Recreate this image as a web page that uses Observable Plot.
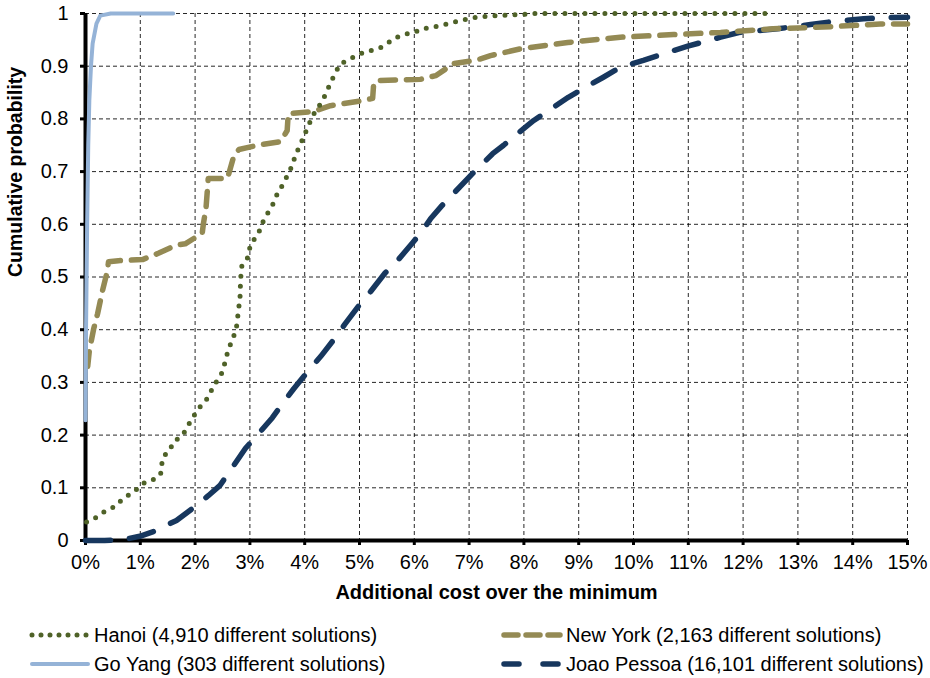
<!DOCTYPE html>
<html>
<head>
<meta charset="utf-8">
<script src="https://cdn.jsdelivr.net/npm/d3@7"></script>
<script src="https://cdn.jsdelivr.net/npm/@observablehq/plot@0.6"></script>
<style>
  html, body { margin: 0; padding: 0; background: #fff; }
  body { font-family: "Liberation Sans", Arial, sans-serif; }
  #wrap { width: 930px; }
</style>
</head>
<body>
<div id="wrap"></div>
<script>
// ---- Data (additional cost over the minimum, %, vs cumulative probability) ----
const hanoiX = [0.02,0.2,0.35,0.55,0.67,0.84,0.97,1.08,1.24,1.37,1.39,1.42,1.53,1.6,1.73,1.84,1.92,2.0,2.08,2.17,2.24,2.32,2.5,2.6,2.75,2.82,2.83,2.85,2.96,3.01,3.16,3.23,3.34,3.43,3.5,3.61,3.69,3.78,3.83,3.92,3.98,4.05,4.12,4.18,4.25,4.32,4.4,4.47,4.56,4.62,4.7,4.85,5.05,5.38,5.53,5.66,5.8,6.0,6.15,6.48,6.7,6.95,7.2,7.9,8.2,12.4];
const hanoiY = [0.035,0.044,0.055,0.065,0.078,0.09,0.1,0.11,0.116,0.125,0.144,0.16,0.169,0.186,0.197,0.21,0.228,0.24,0.252,0.264,0.271,0.29,0.32,0.36,0.40,0.462,0.495,0.52,0.537,0.561,0.584,0.603,0.624,0.64,0.658,0.677,0.694,0.713,0.732,0.75,0.767,0.782,0.8,0.812,0.822,0.835,0.85,0.869,0.886,0.9,0.907,0.915,0.925,0.935,0.945,0.954,0.96,0.964,0.971,0.977,0.983,0.989,0.994,0.998,1.0,1.0];

const newYorkX = [0.04,0.07,0.15,0.22,0.31,0.4,0.42,0.6,1.04,1.33,1.64,1.82,2.13,2.15,2.2,2.24,2.59,2.7,2.8,3.19,3.56,3.68,3.7,4.16,4.47,5.07,5.24,5.26,5.38,6.11,6.39,6.72,7.15,7.39,7.94,8.8,9.76,10.73,11.59,12.55,13.6,14.5,15.0];
const newYorkY = [0.33,0.36,0.402,0.43,0.474,0.512,0.529,0.531,0.533,0.545,0.56,0.563,0.583,0.6,0.632,0.687,0.687,0.727,0.742,0.751,0.757,0.778,0.81,0.814,0.825,0.835,0.839,0.869,0.873,0.875,0.882,0.905,0.912,0.92,0.933,0.945,0.955,0.96,0.964,0.971,0.975,0.98,0.98];

const goYangX = [0.0,0.01,0.03,0.05,0.07,0.1,0.13,0.2,0.27,0.46,1.6];
const goYangY = [0.228,0.4,0.6,0.75,0.835,0.9,0.943,0.981,0.996,1.0,1.0];

const joaoX = [0.0,0.35,0.71,0.99,1.24,1.66,1.93,2.24,2.45,2.92,3.16,3.41,3.61,3.8,4.1,4.29,4.56,4.73,5.02,5.2,5.47,5.66,5.97,6.15,6.3,6.5,7.08,7.43,7.63,7.99,8.18,8.54,8.81,9.21,9.45,9.76,10.18,10.68,10.99,11.59,11.92,12.63,13.23,13.65,14.2,14.54,15.0];
const joaoY = [0.0,0.0,0.002,0.008,0.017,0.038,0.059,0.085,0.104,0.175,0.203,0.233,0.262,0.288,0.326,0.349,0.385,0.41,0.45,0.472,0.508,0.527,0.565,0.588,0.611,0.635,0.698,0.734,0.75,0.781,0.797,0.822,0.841,0.865,0.879,0.898,0.911,0.928,0.938,0.955,0.964,0.971,0.979,0.985,0.99,0.992,0.993];

const xTicks = [0,1,2,3,4,5,6,7,8,9,10,11,12,13,14,15];
const yTicks = [0,0.1,0.2,0.3,0.4,0.5,0.6,0.7,0.8,0.9,1];

const seriesNames = ["Hanoi (4,910 different solutions)","New York (2,163 different solutions)","Go Yang (303 different solutions)","Joao Pessoa (16,101 different solutions)"];
const seriesColors = ["#4f6228","#948a54","#95b3d7","#17375e"];
const xTitle = "Additional cost over the minimum";
const yTitle = "Cumulative probability";

const zip = (xs, ys) => xs.map((x, i) => ({x, y: ys[i]}));
const hanoi = zip(hanoiX, hanoiY);
const newYork = zip(newYorkX, newYorkY);
const goYang = zip(goYangX, goYangY);
const joao = zip(joaoX, joaoY);

const styles = [
  {strokeWidth: 5, strokeDasharray: "0,10", strokeLinecap: "round"},
  {strokeWidth: 5.5, strokeDasharray: "15,11", strokeLinecap: "round"},
  {strokeWidth: 4, strokeLinecap: "round"},
  {strokeWidth: 5.5, strokeDasharray: "25,19", strokeLinecap: "round"}
];

const xFmt = d => d + "%";
const yFmt = d => d === 0 ? "0" : d === 1 ? "1" : d.toFixed(1);

const chart = Plot.plot({
  width: 930,
  height: 610,
  marginLeft: 85,
  marginRight: 23,
  marginTop: 13,
  marginBottom: 70,
  style: {fontFamily: "'Liberation Sans', Arial, sans-serif", color: "#000", background: "#fff"},
  x: {domain: [0, 15]},
  y: {domain: [0, 1]},
  marks: [
    Plot.gridX(xTicks.slice(1), {stroke: "#000", strokeOpacity: 0.85, strokeWidth: 1, strokeDasharray: "4,3"}),
    Plot.gridY(yTicks.slice(1), {stroke: "#000", strokeOpacity: 0.85, strokeWidth: 1, strokeDasharray: "4,3"}),
    Plot.ruleX([0], {stroke: "#000", strokeWidth: 4}),
    Plot.ruleY([0], {stroke: "#000", strokeWidth: 4}),
    Plot.axisX({ticks: xTicks, tickFormat: xFmt, tickSize: 5, strokeWidth: 3, tickPadding: 9, fontSize: 20, label: null}),
    Plot.axisY({ticks: yTicks, tickFormat: yFmt, tickSize: 5, strokeWidth: 3, tickPadding: 12, fontSize: 20, label: null}),
    Plot.line(joao, {x: "x", y: "y", stroke: seriesColors[3], ...styles[3]}),
    Plot.line(newYork, {x: "x", y: "y", stroke: seriesColors[1], ...styles[1]}),
    Plot.line(hanoi, {x: "x", y: "y", stroke: seriesColors[0], ...styles[0]}),
    Plot.line(goYang, {x: "x", y: "y", stroke: seriesColors[2], ...styles[2]}),
    Plot.text([xTitle], {frameAnchor: "bottom", dy: 58, fontWeight: "bold", fontSize: 20, fill: "#000"}),
    Plot.text([yTitle], {frameAnchor: "left", dx: -70, rotate: -90, fontWeight: "bold", fontSize: 19.5, fill: "#000"})
  ]
});
document.getElementById("wrap").appendChild(chart);

// ---- Legend (below the plot) ----
const legendPos = [
  {lx: 30, ty: 25}, {lx: 502, ty: 25}, {lx: 30, ty: 54}, {lx: 502, ty: 54}
];
const leg = d3.create("svg").attr("width", 930).attr("height", 68)
  .style("display", "block")
  .style("font-family", "'Liberation Sans', Arial, sans-serif");
seriesNames.forEach((name, i) => {
  const p = legendPos[i];
  const len = 60;
  const g = leg.append("g");
  g.append("line")
    .attr("x1", p.lx + 2).attr("x2", p.lx + len - 2)
    .attr("y1", p.ty).attr("y2", p.ty)
    .attr("stroke", seriesColors[i])
    .attr("stroke-width", styles[i].strokeWidth)
    .attr("stroke-linecap", styles[i].strokeLinecap || "butt")
    .attr("stroke-dasharray", i === 0 ? "0,9" : i === 1 ? "14,8" : i === 3 ? "15,24" : null);
  g.append("text")
    .attr("x", p.lx + len + 4).attr("y", p.ty)
    .attr("dy", "0.35em")
    .attr("font-size", 20)
    .attr("fill", "#000")
    .text(name);
});
document.getElementById("wrap").appendChild(leg.node());
</script>
</body>
</html>
